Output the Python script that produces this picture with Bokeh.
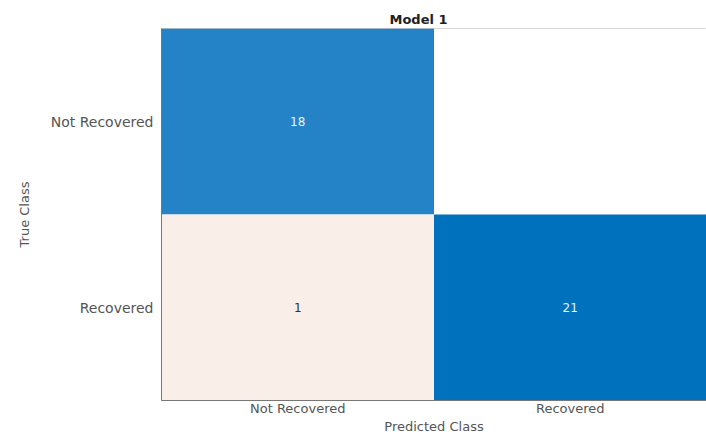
from bokeh.plotting import figure
from bokeh.models import ColumnDataSource, FactorRange
from bokeh.embed import file_html
from bokeh.resources import INLINE
from bokeh.core.properties import value

classes = ["Not Recovered", "Recovered"]
true_class = ["Not Recovered", "Not Recovered", "Recovered", "Recovered"]
pred_class = ["Not Recovered", "Recovered", "Not Recovered", "Recovered"]
counts = [18, 0, 1, 21]
cell_colors = ["#2483c7", "#ffffff", "#f9eee8", "#0072bd"]
text_colors = ["#e8f4ff", "#ffffff", "#333333", "#e8f4ff"]
labels = [str(c) if c > 0 else "" for c in counts]
title_text = "Model 1"
x_label = "Predicted Class"
y_label = "True Class"

src = ColumnDataSource(dict(t=true_class, p=pred_class, c=counts,
                            col=cell_colors, tc=text_colors, lab=labels))

FONT = "DejaVu Sans"
p = figure(width=706, height=436, output_backend="svg", toolbar_location=None,
           x_range=FactorRange(*classes, range_padding=0),
           y_range=FactorRange(*classes[::-1], range_padding=0),
           min_border_left=161, min_border_right=0, min_border_top=28,
           min_border_bottom=0, title=title_text)
p.rect(x="p", y="t", width=1, height=1, source=src, fill_color="col",
       line_color=None)
p.text(x="p", y="t", text="lab", source=src, text_color="tc",
       text_align="center", text_baseline="middle", text_font_size="12px",
       text_font=value(FONT))

p.title.align = "left"
p.title.offset = 228
p.title.standoff = 3
p.title.text_font = FONT
p.title.text_font_size = "13px"
p.title.text_font_style = "bold"
p.title.text_color = "#222222"

p.xgrid.visible = False
p.ygrid.visible = False
p.outline_line_color = "#c8c8c8"
p.background_fill_color = "#ffffff"

for ax in (p.xaxis, p.yaxis):
    ax.axis_line_color = "#777777"
    ax.major_tick_line_color = None
    ax.minor_tick_line_color = None
    ax.major_tick_out = 0
    ax.major_tick_in = 0
    ax.major_label_text_font = FONT
    ax.major_label_text_color = "#555555"
    ax.major_label_text_line_height = 0.8
    ax.axis_label_text_font = FONT
    ax.axis_label_text_font_style = "normal"
    ax.axis_label_text_color = "#555555"
    ax.axis_label_text_line_height = 0.8

p.yaxis.major_label_text_font_size = "14px"
p.yaxis.axis_label_text_font_size = "13px"
p.xaxis.major_label_text_font_size = "13px"
p.xaxis.axis_label_text_font_size = "13px"

p.xaxis.axis_label = x_label
p.yaxis.axis_label = y_label
p.xaxis.major_label_standoff = 0
p.xaxis.axis_label_standoff = 0
p.yaxis.major_label_standoff = 8
p.yaxis.axis_label_standoff = 16

open("out.html", "w").write(file_html(p, INLINE))
